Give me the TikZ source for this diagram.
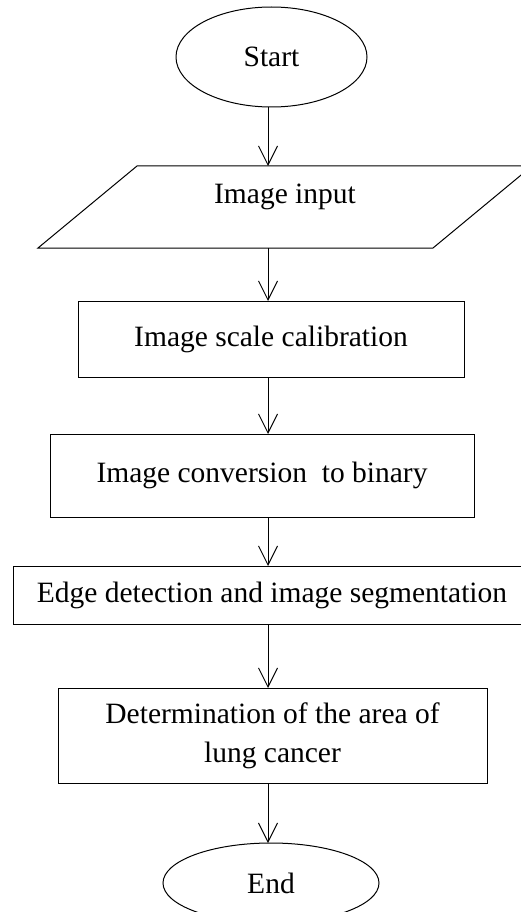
\documentclass[tikz,border=0pt]{standalone}
\usepackage{fontspec}
\setmainfont{Liberation Serif}
\usetikzlibrary{shapes.geometric, arrows.meta, positioning}
\definecolor{lineColor}{RGB}{0, 0, 0}
\tikzset{
    flow_term/.style={
        ellipse,
        draw=lineColor,
        line width=1pt,
        inner sep=0pt,
        outer sep=0pt
    },
    flow_io/.style={
        rectangle,
        inner sep=0pt,
        outer sep=0pt
    },
    flow_proc/.style={
        rectangle,
        draw=lineColor,
        line width=1pt,
        inner sep=0pt,
        outer sep=0pt,
        align=center
    },
    flow_edge/.style={
        -{Straight Barb[length=19pt, width=19pt]},
        line width=1pt,
        draw=lineColor
    }
}

\begin{document}
\begin{tikzpicture}[x=1pt, y=-1pt, font=\fontsize{29.5}{39}\selectfont]
    \useasboundingbox (0,0) rectangle (520,912);
    \coordinate (spine) at (268,0);

    \node[flow_term, minimum width=191pt, minimum height=100pt] (start) at (271.5,57) {Start};
    \node[flow_io, minimum width=395pt, minimum height=82pt, text height=0pt, text depth=8pt] (input) at (285,207) {Image input};
    \node[flow_proc, minimum width=386pt, minimum height=76pt] (calib) at (271,339) {Image scale calibration};
    \node[flow_proc, minimum width=424pt, minimum height=83pt] (binary) at (262,475.5) {Image conversion\ \ to binary};
    \node[flow_proc, minimum width=518pt, minimum height=58pt] (segment) at (272,595) {Edge detection and image segmentation};
    \node[flow_proc, minimum width=429pt, minimum height=95pt] (area) at (272.5,735.5) {Determination of the area of\\lung cancer};
    \node[flow_term, minimum width=216pt, minimum height=80pt] (finish) at (271,883) {End};

    % slanted outline of the input box
    \draw[line width=1pt, draw=lineColor]
        ([xshift=-49.5pt]input.south west) -- ([xshift=49.5pt]input.north west)
        -- ([xshift=49.5pt]input.north east) -- ([xshift=-49.5pt]input.south east) -- cycle;

    \draw[flow_edge] (spine |- start.south) -- (spine |- input.north);
    \draw[flow_edge] (spine |- input.south) -- (spine |- calib.north);
    \draw[flow_edge] (spine |- calib.south) -- (spine |- binary.north);
    \draw[flow_edge] (spine |- binary.south) -- (spine |- segment.north);
    \draw[flow_edge] (spine |- segment.south) -- (spine |- area.north);
    \draw[flow_edge] (spine |- area.south) -- (spine |- finish.north);
\end{tikzpicture}
\end{document}
